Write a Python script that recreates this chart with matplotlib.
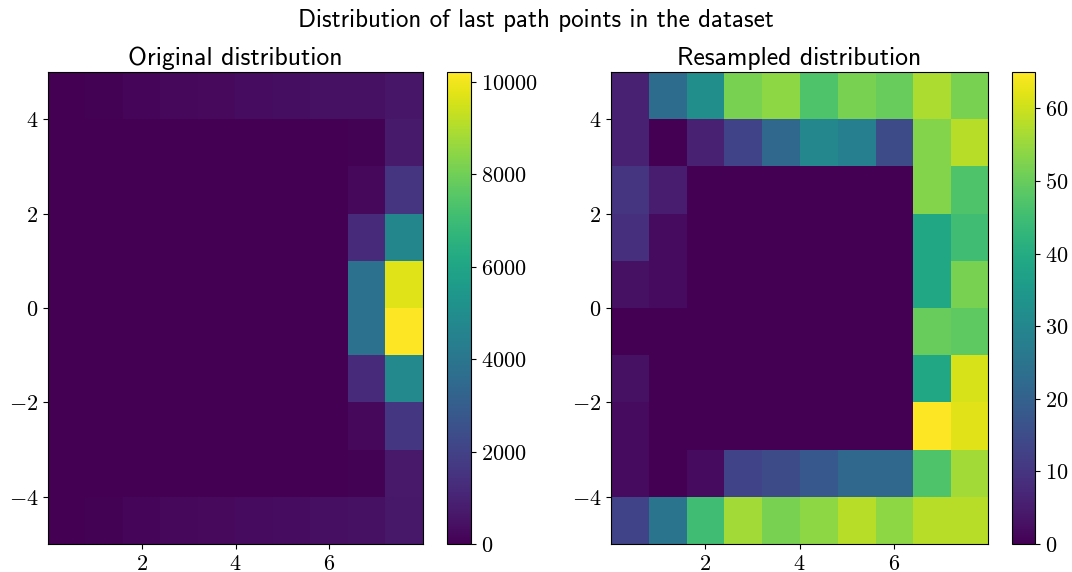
import numpy as np
import matplotlib
matplotlib.use("Agg")
import matplotlib.pyplot as plt
from matplotlib.ticker import FuncFormatter

plt.rcParams['mathtext.fontset'] = 'cm'

# histogram counts, rows listed top (y=4..5) to bottom (y=-5..-4), columns x=0..8
original_counts = [
    [20, 50, 120, 200, 260, 330, 380, 450, 460, 600],
    [0, 0, 0, 0, 0, 0, 0, 0, 40, 750],
    [0, 0, 0, 0, 0, 0, 0, 0, 220, 1550],
    [0, 0, 0, 0, 0, 0, 0, 0, 1250, 4700],
    [0, 0, 0, 0, 0, 0, 0, 0, 3800, 9700],
    [0, 0, 0, 0, 0, 0, 0, 0, 3800, 10210],
    [0, 0, 0, 0, 0, 0, 0, 0, 1250, 4800],
    [0, 0, 0, 0, 0, 0, 0, 0, 220, 1600],
    [0, 0, 0, 0, 0, 0, 0, 0, 40, 700],
    [20, 50, 120, 220, 240, 300, 330, 430, 450, 650],
]
resampled_counts = [
    [6, 23, 32, 52, 54, 47, 52, 50, 57, 52],
    [6, 0, 6, 13, 22, 30, 28, 15, 53, 58],
    [10, 5, 0, 0, 0, 0, 0, 0, 53, 47],
    [9, 2, 0, 0, 0, 0, 0, 0, 39, 45],
    [3, 2, 0, 0, 0, 0, 0, 0, 39, 52],
    [0, 0, 0, 0, 0, 0, 0, 0, 50, 49],
    [3, 0, 0, 0, 0, 0, 0, 0, 39, 61],
    [2, 0, 0, 0, 0, 0, 0, 0, 65, 62],
    [2, 0, 2, 13, 15, 18, 22, 22, 47, 56],
    [13, 25, 45, 56, 52, 54, 58, 54, 58, 58],
]
extent = (0, 8, -5, 5)
xticks = [2, 4, 6]
yticks = [-4, -2, 0, 2, 4]
cbar_ticks_orig = [0, 2000, 4000, 6000, 8000, 10000]
cbar_ticks_res = [0, 10, 20, 30, 40, 50, 60]

fmt = FuncFormatter(lambda v, p: r'$%g$' % v)

fig = plt.figure(figsize=(10.72, 5.72), dpi=100)
ax1 = fig.add_axes([0.0448, 0.0490, 0.3498, 0.825])
cax1 = fig.add_axes([0.417, 0.0490, 0.0224, 0.825])
ax2 = fig.add_axes([0.570, 0.0490, 0.3517, 0.825])
cax2 = fig.add_axes([0.944, 0.0490, 0.0215, 0.825])

panels = [
    (ax1, cax1, original_counts, 'Original distribution', cbar_ticks_orig),
    (ax2, cax2, resampled_counts, 'Resampled distribution', cbar_ticks_res),
]
for ax, cax, counts, title, cticks in panels:
    im = ax.imshow(np.array(counts), cmap='viridis', extent=extent,
                   aspect='auto', interpolation='nearest')
    ax.set_xticks(xticks)
    ax.set_yticks(yticks)
    ax.xaxis.set_major_formatter(fmt)
    ax.yaxis.set_major_formatter(fmt)
    ax.tick_params(labelsize=16)
    ax.set_title(title, fontfamily='cmss10', fontsize=18.5, pad=5)
    cb = fig.colorbar(im, cax=cax)
    cb.set_ticks(cticks)
    cb.ax.yaxis.set_major_formatter(fmt)
    cb.ax.tick_params(labelsize=16)

fig.suptitle('Distribution of last path points in the dataset',
             fontfamily='cmss10', fontsize=18, y=0.985)

fig.savefig('out.png', dpi=100)
